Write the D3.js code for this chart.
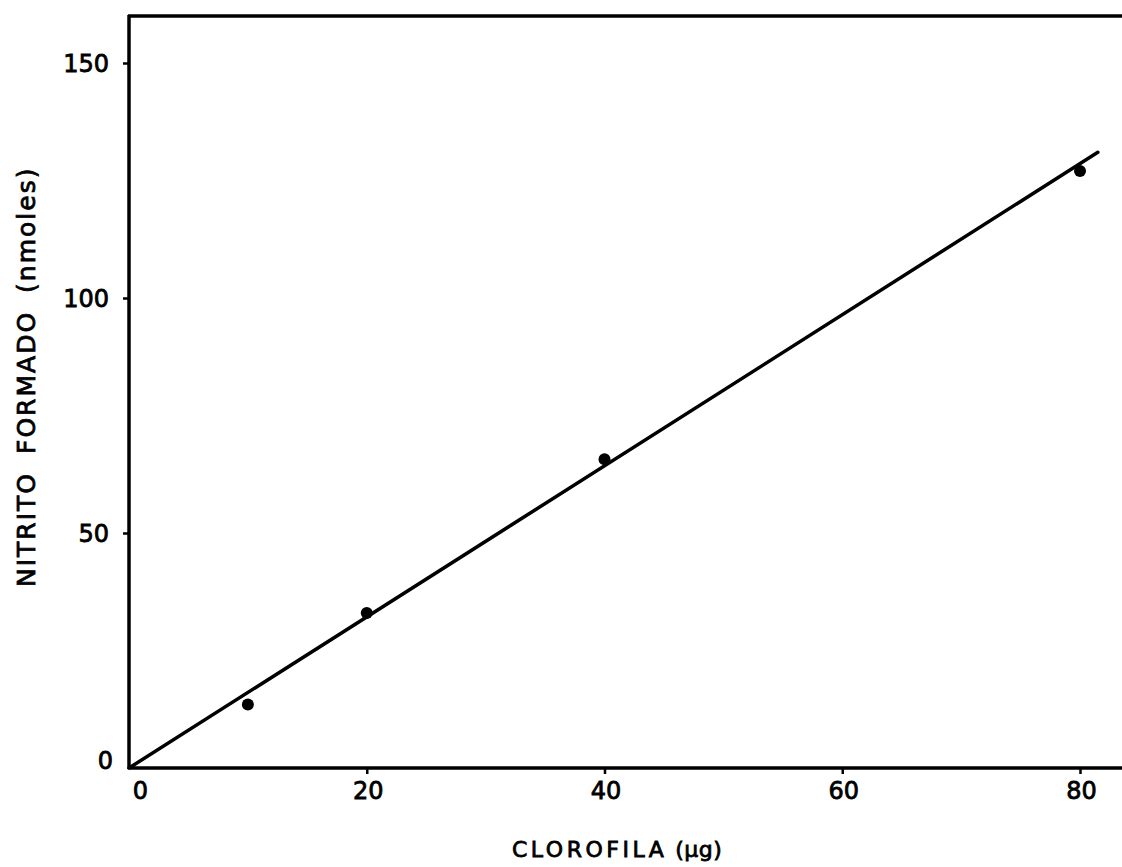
<!DOCTYPE html>
<html>
<head>
<meta charset="utf-8">
<script src="https://cdn.jsdelivr.net/npm/d3@7"></script>
<style>
  html, body { margin: 0; padding: 0; background: #fff; }
  svg { display: block; }
  text { font-family: "DejaVu Sans", "Liberation Sans", sans-serif; fill: #000; }
</style>
</head>
<body>
<svg id="chart" width="1122" height="867"></svg>
<script>
// Chlorophyll amount (µg) vs nitrite formed (nmoles)
const clorofila = [10, 20, 40, 80];
const nitrito = [13.5, 33, 65.7, 127];

// Straight fit line, drawn from its two end points
const fitX = [0, 81.5];
const fitY = [0, 131];

const xTicks = [0, 20, 40, 60, 80];
const yTicks = [0, 50, 100, 150];

const xLabel = "CLOROFILA";
const xUnit = "(µg)";
const yWords = ["NITRITO", "FORMADO", "(nmoles)"];

const W = 1122, H = 867;
const svg = d3.select("#chart");

const x = d3.scaleLinear().domain([0, 80]).range([129, 1080]);
const y = d3.scaleLinear().domain([0, 160]).range([768, 16]);

const ink = "#000";
const heavy = sel => sel.attr("stroke", ink).attr("stroke-width", 0.8);

// Frame: left axis, bottom axis, top rule (open on the right)
svg.append("line")
  .attr("x1", x(0)).attr("x2", W)
  .attr("y1", y(0)).attr("y2", y(0))
  .attr("stroke", ink).attr("stroke-width", 3.5);
svg.append("line")
  .attr("x1", x(0)).attr("x2", x(0))
  .attr("y1", y(0) + 1).attr("y2", y(160) - 1)
  .attr("stroke", ink).attr("stroke-width", 3.5);
svg.append("line")
  .attr("x1", x(0) - 1).attr("x2", W)
  .attr("y1", y(160)).attr("y2", y(160))
  .attr("stroke", ink).attr("stroke-width", 3.5);

// Axes (ticks + labels only; the axis lines are drawn above)
const xAxis = d3.axisBottom(x).tickValues(xTicks).tickSize(6).tickPadding(8).tickFormat(d3.format("d"));
const gx = svg.append("g").attr("transform", `translate(0,${y(0)})`).call(xAxis);
gx.select(".domain").remove();
gx.selectAll(".tick line").attr("stroke", ink).attr("stroke-width", 2.5);
gx.selectAll(".tick text")
  .attr("font-size", 24)
  .attr("font-family", "DejaVu Sans, sans-serif")
  .attr("fill", ink)
  .attr("dx", d => d === 0 ? 11 : 1)
  .call(heavy);
gx.selectAll(".tick").filter(d => d === 0).select("line").remove();

const yAxis = d3.axisLeft(y).tickValues(yTicks).tickSize(6).tickPadding(14).tickFormat(d3.format("d"));
const gy = svg.append("g").attr("transform", `translate(${x(0)},0)`).call(yAxis);
gy.select(".domain").remove();
gy.selectAll(".tick line").attr("stroke", ink).attr("stroke-width", 2.5);
gy.selectAll(".tick text")
  .attr("font-size", 24)
  .attr("font-family", "DejaVu Sans, sans-serif")
  .attr("fill", ink)
  .attr("dy", d => d === 0 ? "0.0em" : "0.35em")
  .attr("dx", d => d === 0 ? 4 : 0)
  .call(heavy);
gy.selectAll(".tick").filter(d => d === 0).select("line").remove();

// Fit line
const fit = fitX.map((v, i) => [v, fitY[i]]);
svg.append("path")
  .datum(fit)
  .attr("fill", "none")
  .attr("stroke", ink)
  .attr("stroke-width", 3.5)
  .attr("stroke-linecap", "round")
  .attr("d", d3.line().x(d => x(d[0])).y(d => y(d[1])));

// Measured points
svg.append("g").selectAll("circle")
  .data(clorofila.map((v, i) => [v, nitrito[i]]))
  .join("circle")
  .attr("cx", d => x(d[0]))
  .attr("cy", d => y(d[1]))
  .attr("r", 6)
  .attr("fill", ink);

// Axis titles
const xt = svg.append("text")
  .attr("x", 512).attr("y", 857)
  .attr("font-size", 22)
  .attr("letter-spacing", 3.5)
  .call(heavy);
xt.append("tspan").text(xLabel);
xt.append("tspan").attr("dx", 8).attr("letter-spacing", 0.5).text(xUnit);

const yt = svg.append("text")
  .attr("transform", "translate(35,587) rotate(-90)")
  .attr("font-size", 25)
  .attr("letter-spacing", 2)
  .call(heavy);
yt.selectAll("tspan")
  .data(yWords)
  .join("tspan")
  .attr("dx", (d, i) => i === 0 ? 0 : 18)
  .text(d => d);
</script>
</body>
</html>
